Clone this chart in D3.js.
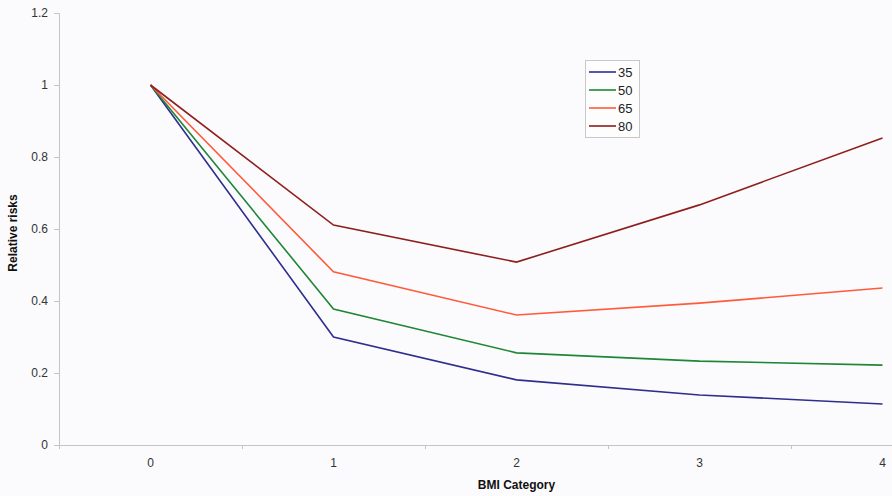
<!DOCTYPE html>
<html>
<head>
<meta charset="utf-8">
<script src="https://cdn.jsdelivr.net/npm/d3@7"></script>
<style>
  body { margin: 0; background: #fbfbfd; }
  svg { display: block; font-family: "Liberation Sans", Arial, sans-serif; }
</style>
</head>
<body>
<svg id="chart" width="892" height="496"></svg>
<script>
// BMI categories and relative risks per age group
const categories = [0, 1, 2, 3, 4];
const seriesNames = ["35", "50", "65", "80"];
const risk35 = [1, 0.300, 0.181, 0.139, 0.114];
const risk50 = [1, 0.378, 0.256, 0.233, 0.222];
const risk65 = [1, 0.481, 0.361, 0.394, 0.436];
const risk80 = [1, 0.611, 0.508, 0.667, 0.853];
const yTicks = [0, 0.2, 0.4, 0.6, 0.8, 1, 1.2];
const colors = ["#2e2e8e", "#1e8636", "#ff5a3a", "#8e1f1c"];

const series = [risk35, risk50, risk65, risk80].map((v, i) => ({
  name: seriesNames[i],
  color: colors[i],
  values: v.map((y, j) => ({ x: categories[j], y: y }))
}));

const svg = d3.select("#chart");
const margin = { left: 59, top: 13, bottom: 445 };

// plot area runs past the right edge, like the cropped original
const xScale = d3.scaleBand()
    .domain(categories)
    .range([margin.left, margin.left + 5 * 183]);
const yScale = d3.scaleLinear()
    .domain([0, 1.2])
    .range([margin.bottom, margin.top]);

const axisColor = "#c4c4c4";

// y axis
const gY = svg.append("g")
    .attr("transform", "translate(" + margin.left + ",0)")
    .call(d3.axisLeft(yScale).tickValues(yTicks).tickSize(5).tickPadding(6)
      .tickFormat(d => d3.format("~g")(d)));
gY.select(".domain").attr("stroke", axisColor);
gY.selectAll(".tick line").attr("stroke", axisColor);
gY.selectAll(".tick text").attr("fill", "#333").style("font-size", "12px");

// x axis: line, ticks between categories, labels at centres
const gX = svg.append("g");
gX.append("line")
    .attr("x1", margin.left).attr("x2", xScale.range()[1])
    .attr("y1", margin.bottom + 0.5).attr("y2", margin.bottom + 0.5)
    .attr("stroke", axisColor);
gX.selectAll(".xtick")
  .data(categories)
  .enter().append("line")
    .attr("class", "xtick")
    .attr("x1", d => Math.round(xScale(d)) + 0.5)
    .attr("x2", d => Math.round(xScale(d)) + 0.5)
    .attr("y1", margin.bottom).attr("y2", margin.bottom + 4)
    .attr("stroke", axisColor);
gX.selectAll(".xlabel")
  .data(categories)
  .enter().append("text")
    .attr("class", "xlabel")
    .attr("x", d => xScale(d) + xScale.bandwidth() / 2)
    .attr("y", 467)
    .attr("text-anchor", "middle")
    .attr("fill", "#333")
    .style("font-size", "12px")
    .text(d => d);

// axis titles
svg.append("text")
    .attr("x", (xScale.range()[0] + xScale.range()[1]) / 2)
    .attr("y", 489)
    .attr("text-anchor", "middle")
    .style("font-size", "12px")
    .style("font-weight", "bold")
    .attr("fill", "#111")
    .text("BMI Category");
svg.append("text")
    .attr("transform", "translate(17," + ((margin.top + margin.bottom) / 2 + 4) + ") rotate(-90)")
    .attr("text-anchor", "middle")
    .style("font-size", "12px")
    .style("font-weight", "bold")
    .attr("fill", "#111")
    .text("Relative risks");

// curves
const line = d3.line()
    .x(d => xScale(d.x) + xScale.bandwidth() / 2)
    .y(d => yScale(d.y));

svg.append("g").selectAll("path")
  .data(series)
  .enter().append("path")
    .attr("fill", "none")
    .attr("stroke", d => d.color)
    .attr("stroke-width", 1.6)
    .attr("stroke-linejoin", "miter")
    .attr("d", d => line(d.values));

// legend
const legend = svg.append("g").attr("transform", "translate(585,60)");
legend.append("rect")
    .attr("x", 0.5).attr("y", 0.5)
    .attr("width", 54).attr("height", 77)
    .attr("fill", "#fdfdfe")
    .attr("stroke", "#c8c8c8");
const items = legend.selectAll(".item")
  .data(series)
  .enter().append("g")
    .attr("class", "item")
    .attr("transform", (d, i) => "translate(0," + (12 + i * 18) + ")");
items.append("line")
    .attr("x1", 4).attr("x2", 31)
    .attr("stroke", d => d.color)
    .attr("stroke-width", 1.6);
items.append("text")
    .attr("x", 33)
    .attr("y", 5)
    .style("font-size", "13px")
    .attr("fill", "#222")
    .text(d => d.name);
</script>
</body>
</html>
